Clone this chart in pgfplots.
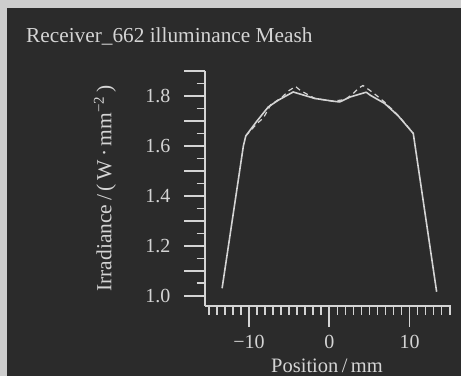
\documentclass[border=0pt]{standalone}
\usepackage{fontspec}
\setmainfont{Liberation Serif}
\usepackage{pgfplots}
\pgfplotsset{compat=1.18}
\definecolor{bg}{HTML}{2B2B2B}
\definecolor{fg}{HTML}{D4D4D4}
\definecolor{edge}{HTML}{CDCDCD}
\begin{document}
\begin{tikzpicture}
\fill[edge] (0bp,0bp) rectangle (461bp,376bp);
\fill[bg] (7bp,0bp) rectangle (461bp,367.5bp);
\node[anchor=base west, text=fg, font=\fontsize{21.3bp}{25bp}\selectfont, inner sep=0] at (26bp,333.3bp) {Receiver\_662 illuminance Meash};
\begin{axis}[
  at={(205bp,70bp)}, anchor=south west,
  scale only axis, width=246bp, height=235bp,
  xmin=-15.48, xmax=15.16, ymin=0.959, ymax=1.9,
  axis lines=left,
  axis line style={fg, line width=1.6bp, -},
  tick align=outside,
  major tick length=21bp, minor tick length=8.5bp,
  every tick/.style={fg, line width=1.6bp},
  xtick={-10,0,10}, xticklabels={−10,0,10},
  minor xtick={-15,-14,...,15},
  ytick={1.0,1.1,1.2,1.3,1.4,1.5,1.6,1.7,1.8,1.9},
  yticklabels={1.0,,1.2,,1.4,,1.6,,1.8,},
  minor ytick={1.05,1.15,1.25,1.35,1.45,1.55,1.65,1.75,1.85},
  tick label style={text=fg, font=\fontsize{20bp}{24bp}\selectfont},
  yticklabel style={xshift=-10bp},
  xticklabel style={yshift=-5bp},
  xlabel={Position\,/\,mm},
  xlabel style={at={(axis description cs:0.496,-0.285)}, anchor=base, text=fg, font=\fontsize{20.5bp}{24bp}\selectfont},
  ylabel={Irradiance\,/\,(\,W\,·\,mm\textsuperscript{−2}\,)},
  ylabel style={at={(axis description cs:-0.4065,0.5)}, anchor=center, text=fg, font=\fontsize{21.5bp}{24bp}\selectfont},
  clip=false,
]
\addplot[fg, line width=1.6bp, line join=round] coordinates {
(-13.35,1.03) (-10.7,1.60) (-10.4,1.64) (-9.0,1.70) (-7.6,1.756) (-6.35,1.783)
(-4.5,1.816) (-1.8,1.79) (0.5,1.779) (1.3,1.776) (2.6,1.796) (4.6,1.815)
(5.1,1.803) (6.9,1.77) (8.6,1.72) (10.46,1.65) (13.37,1.016)
};
\addplot[fg, line width=1.2bp, dash pattern=on 5bp off 4bp] coordinates {
(-10.4,1.64) (-9.0,1.69) (-8.2,1.712) (-7.3,1.765) (-6.0,1.792) (-5.0,1.822)
(-4.2,1.838) (-3.6,1.822) (-1.8,1.79) (0.5,1.779) (2.0,1.786) (3.0,1.81)
(3.6,1.83) (4.2,1.842) (5.5,1.812) (6.9,1.775) (8.6,1.722) (10.46,1.65)
};
\end{axis}
\pgfresetboundingbox
\path[use as bounding box] (0bp,0bp) rectangle (461bp,376bp);
\end{tikzpicture}
\end{document}
